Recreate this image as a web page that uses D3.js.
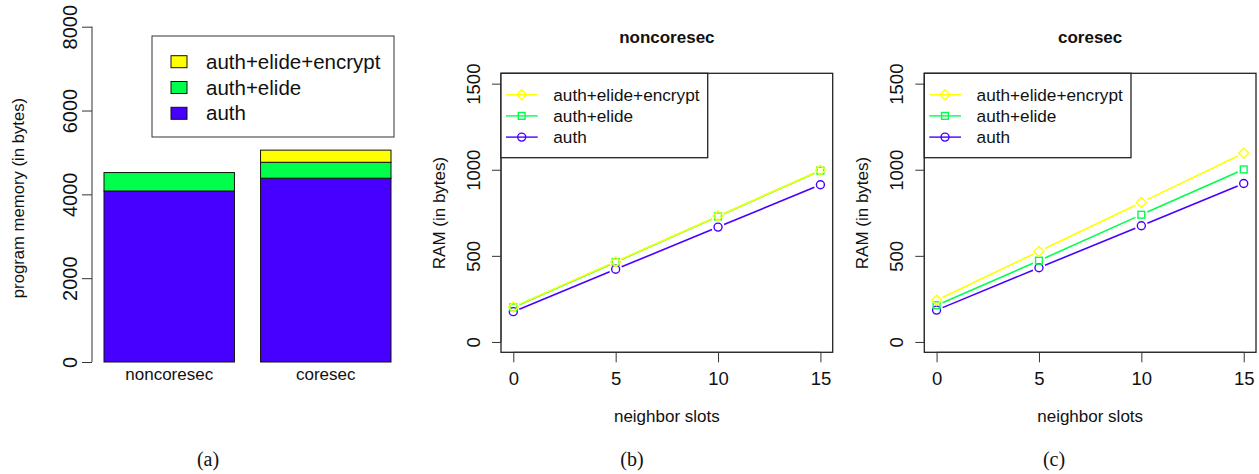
<!DOCTYPE html>
<html>
<head>
<meta charset="utf-8">
<script src="https://cdn.jsdelivr.net/npm/d3@7"></script>
<style>
  body { margin: 0; background: #fff; }
  svg text { font-family: "Liberation Sans", Arial, sans-serif; fill: #111; }
  .cap { font-family: "Liberation Serif", "DejaVu Serif", serif; }
</style>
</head>
<body>
<svg id="fig" width="1259" height="474"></svg>
<script>
// ---- data ----
const barCats = ["noncoresec", "coresec"];
const barAuth = [4080, 4385];      // auth segment
const barElide = [440, 380];       // extra for auth+elide
const barEncrypt = [0, 290];       // extra for auth+elide+encrypt
const barTicks = [0, 2000, 4000, 6000, 8000];

const slots = [0, 5, 10, 15];
const ramTicks = [0, 500, 1000, 1500];
const noncoresecAuth = [176, 422, 667, 913];
const noncoresecElide = [201, 464, 729, 995];
const noncoresecEncrypt = [203, 466, 731, 997];
const coresecAuth = [185, 431, 675, 920];
const coresecElide = [213, 472, 739, 1002];
const coresecEncrypt = [242, 526, 810, 1096];

const seriesNames = ["auth+elide+encrypt", "auth+elide", "auth"];
const colYellow = "#ffff00", colGreen = "#00ff4c", colBlue = "#4700ff";

const svg = d3.select("#fig");

// ---------- (a) stacked bars ----------
const ya = d3.scaleLinear().domain([0, 8000]).range([362, 26.7]);
const xa = d3.scaleBand().domain(barCats).range([104, 391]).paddingInner(0.1667);

const stackRows = barCats.map((c, i) => ({cat: c, auth: barAuth[i], elide: barElide[i], encrypt: barEncrypt[i]}));
const stacked = d3.stack().keys(["auth", "elide", "encrypt"])(stackRows);
const segColors = {auth: colBlue, elide: colGreen, encrypt: colYellow};

const ga = svg.append("g");
stacked.forEach(layer => {
  ga.selectAll(null).data(layer.filter(d => d[1] > d[0])).enter().append("rect")
    .attr("x", d => xa(d.data.cat))
    .attr("width", xa.bandwidth())
    .attr("y", d => ya(d[1]))
    .attr("height", d => ya(d[0]) - ya(d[1]))
    .attr("fill", segColors[layer.key])
    .attr("stroke", "#111").attr("stroke-width", 1);
});

const axA = ga.append("g").attr("transform", "translate(92,0)")
  .call(d3.axisLeft(ya).tickValues(barTicks).tickSize(10).tickFormat(d3.format("d")));
axA.select(".domain").attr("d", `M0,${ya(0)}V${ya(8000)}`).attr("stroke", "#333");
axA.selectAll(".tick line").attr("stroke", "#333");
axA.selectAll(".tick text")
  .attr("transform", "rotate(-90)").attr("x", 0).attr("y", -22)
  .attr("text-anchor", "middle").attr("dy", "0.35em")
  .style("font-size", "20px").style("font-family", "Liberation Sans, Arial, sans-serif").attr("fill", "#111");

ga.selectAll(".bname").data(barCats).enter().append("text")
  .attr("x", d => xa(d) + xa.bandwidth() / 2).attr("y", 380)
  .attr("text-anchor", "middle").style("font-size", "17px").text(d => d);

ga.append("text").attr("transform", "translate(24,198) rotate(-90)")
  .attr("text-anchor", "middle").style("font-size", "16.7px").text("program memory (in bytes)");

// legend (a)
ga.append("rect").attr("x", 152).attr("y", 36).attr("width", 242).attr("height", 101)
  .attr("fill", "#fff").attr("stroke", "#333");
[colYellow, colGreen, colBlue].forEach((c, i) => {
  const cy = 61.7 + i * 25.8;
  ga.append("rect").attr("x", 171).attr("y", cy - 6).attr("width", 16).attr("height", 12)
    .attr("fill", c).attr("stroke", "#111");
  ga.append("text").attr("x", 206).attr("y", cy).attr("dy", "0.35em")
    .style("font-size", "20.5px").text(seriesNames[i]);
});

// ---------- line panels ----------
function symbol(g, type, x, y, color) {
  if (type === "circle") {
    g.append("circle").attr("cx", x).attr("cy", y).attr("r", 4)
      .attr("fill", "none").attr("stroke", color).attr("stroke-width", 1.4);
  } else if (type === "square") {
    g.append("rect").attr("x", x - 3.4).attr("y", y - 3.4).attr("width", 6.8).attr("height", 6.8)
      .attr("fill", "none").attr("stroke", color).attr("stroke-width", 1.4);
  } else {
    g.append("path").attr("d", `M${x},${y - 5}L${x + 5},${y}L${x},${y + 5}L${x - 5},${y}Z`)
      .attr("fill", "none").attr("stroke", color).attr("stroke-width", 1.4);
  }
}

function linePanel(opt) {
  const g = svg.append("g");
  const x = d3.scaleLinear().domain([-0.6, 15.6]).range([opt.left, opt.right]);
  const y = d3.scaleLinear().domain([-60, 1560]).range([352.3, 73.3]);

  const series = [
    {vals: opt.auth, color: colBlue, sym: "circle"},
    {vals: opt.elide, color: colGreen, sym: "square"},
    {vals: opt.encrypt, color: colYellow, sym: "diamond"}
  ];
  const gap = 6.5;
  series.forEach(s => {
    const pts = slots.map((d, i) => [x(d), y(s.vals[i])]);
    // type = "b": segments with gaps around points
    for (let i = 0; i < pts.length - 1; i++) {
      const [x1, y1] = pts[i], [x2, y2] = pts[i + 1];
      const len = Math.hypot(x2 - x1, y2 - y1);
      const ux = (x2 - x1) / len, uy = (y2 - y1) / len;
      g.append("path")
        .attr("d", d3.line()([[x1 + ux * gap, y1 + uy * gap], [x2 - ux * gap, y2 - uy * gap]]))
        .attr("stroke", s.color).attr("stroke-width", 1.6).attr("fill", "none");
    }
    pts.forEach(p => symbol(g, s.sym, p[0], p[1], s.color));
  });

  g.append("rect").attr("x", opt.left).attr("y", 73.3)
    .attr("width", opt.right - opt.left).attr("height", 352.3 - 73.3)
    .attr("fill", "none").attr("stroke", "#222").attr("stroke-width", 1.3);

  const ax = g.append("g").attr("transform", "translate(0,352.3)")
    .call(d3.axisBottom(x).tickValues(slots).tickSize(10));
  ax.select(".domain").attr("d", `M${x(0)},0H${x(15)}`).attr("stroke", "#333");
  ax.selectAll(".tick line").attr("stroke", "#333");
  ax.selectAll(".tick text").attr("y", 26).attr("dy", "0.35em")
    .style("font-size", "18.5px").style("font-family", "Liberation Sans, Arial, sans-serif").attr("fill", "#111");

  const ay = g.append("g").attr("transform", `translate(${opt.left},0)`)
    .call(d3.axisLeft(y).tickValues(ramTicks).tickSize(9).tickFormat(d3.format("d")));
  ay.select(".domain").attr("d", `M0,${y(0)}V${y(1500)}`).attr("stroke", "#333");
  ay.selectAll(".tick line").attr("stroke", "#333");
  ay.selectAll(".tick text")
    .attr("transform", "rotate(-90)").attr("x", 0).attr("y", -(opt.left - opt.tickLabX))
    .attr("text-anchor", "middle").attr("dy", "0.35em")
    .style("font-size", "18.5px").style("font-family", "Liberation Sans, Arial, sans-serif").attr("fill", "#111");

  g.append("text").attr("x", (opt.left + opt.right) / 2).attr("y", 37).attr("dy", "0.35em")
    .attr("text-anchor", "middle").style("font-size", "17px").style("font-weight", "bold").text(opt.title);
  g.append("text").attr("x", (opt.left + opt.right) / 2).attr("y", 416).attr("dy", "0.35em")
    .attr("text-anchor", "middle").style("font-size", "17px").text("neighbor slots");
  g.append("text").attr("transform", `translate(${opt.titleX},213) rotate(-90)`).attr("dy", "0.35em")
    .attr("text-anchor", "middle").style("font-size", "17px").text("RAM (in bytes)");

  // legend
  g.append("rect").attr("x", opt.left).attr("y", 73.3).attr("width", 206.7).attr("height", 84.4)
    .attr("fill", "#fff").attr("stroke", "#222").attr("stroke-width", 1.3);
  const legItems = [series[2], series[1], series[0]];
  legItems.forEach((s, i) => {
    const cy = 94.7 + i * 21.2;
    g.append("line").attr("x1", opt.left + 5).attr("x2", opt.left + 36.7)
      .attr("y1", cy).attr("y2", cy).attr("stroke", s.color).attr("stroke-width", 1.4);
    symbol(g, s.sym, opt.left + 20.7, cy, s.color);
    g.append("text").attr("x", opt.left + 52.3).attr("y", cy).attr("dy", "0.35em")
      .style("font-size", "17.2px").text(seriesNames[i]);
  });
}

linePanel({left: 501, right: 832.7, tickLabX: 473.3, titleX: 439, title: "noncoresec",
  auth: noncoresecAuth, elide: noncoresecElide, encrypt: noncoresecEncrypt});
linePanel({left: 924.3, right: 1256, tickLabX: 896.7, titleX: 862.3, title: "coresec",
  auth: coresecAuth, elide: coresecElide, encrypt: coresecEncrypt});

// captions
[["(a)", 208], ["(b)", 632], ["(c)", 1054]].forEach(([t, cx]) => {
  svg.append("text").attr("class", "cap").attr("x", cx).attr("y", 466)
    .attr("text-anchor", "middle").style("font-size", "20px").text(t);
});
</script>
</body>
</html>
